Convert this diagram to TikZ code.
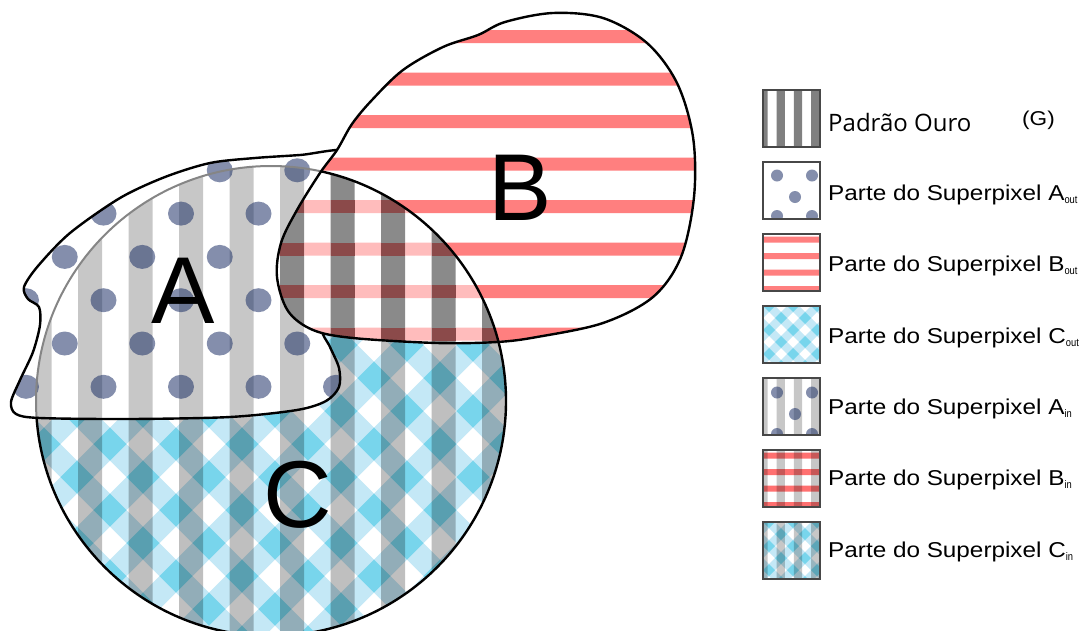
\documentclass[tikz,border=0pt]{standalone}
\usepackage{fontspec}
\setmainfont{Liberation Sans}
\newfontfamily\legfont[FakeStretch=1.13]{Liberation Sans}
\newfontfamily\subfont[FakeStretch=0.85]{Liberation Sans}
\newfontfamily\goldfont{Open Sans}

\definecolor{redstripe}{HTML}{FF7F7F}
\definecolor{pinkstripe}{HTML}{FFBCBC}
\definecolor{darkstripe}{HTML}{8A8A8A}
\definecolor{crossred}{HTML}{8B4A4A}
\definecolor{legred}{HTML}{FF7070}
\definecolor{cyanlight}{HTML}{C4E8F6}
\definecolor{cyanmid}{HTML}{78D5EC}
\definecolor{navy}{HTML}{1F3268}
\definecolor{goldgrey}{HTML}{808080}
\definecolor{arcgrey}{HTML}{858585}

% shapes, in pixel units (y grows downwards)
\def\circleG{(271,401) circle [radius=235]}
\def\blobA{plot[smooth cycle, tension=0.5] coordinates {(350,151) (300,155) (255,158) (210,163) (165,177) (120,198) (70,233) (38,266) (24,287) (28,299) (39,307) (40,325) (33,352) (20,380) (11,402) (16,414) (40,418) (130,419) (230,417) (297,410) (326,401) (339,387) (339,368) (330,347) (322,328) (338,300) (352,240) (357,185)}}
\def\blobB{plot[smooth cycle, tension=0.55] coordinates {(337,150) (352,124) (372,100) (403,70) (443,47) (478,35) (505,22) (553,13) (603,18) (647,43) (677,83) (693,137) (694,197) (681,257) (653,297) (603,323) (537,337) (497,342) (437,343) (353,338) (313,330) (288,311) (277,277) (281,243) (297,210) (320,173)}}
% vertical stripes of the gold standard
\def\gstripes{\foreach \k in {0,...,9} {({27.5+50.5*\k},140) rectangle ++(24,510)}}
% horizontal stripes of superpixel B
\def\rstripes{\foreach \j in {0,...,7} {(255,{30+42.5*\j}) rectangle ++(460,13)}}
% diagonal bands of superpixel C
\def\bandone{\foreach \k in {2,...,18} {({9.5+66*\k-150},150) -- ({42.5+66*\k-150},150) -- ({42.5+66*\k-650},650) -- ({9.5+66*\k-650},650) -- cycle}}
\def\bandtwo{\foreach \m in {-10,...,5} {({45.5+66*\m+150},150) -- ({78.5+66*\m+150},150) -- ({78.5+66*\m+650},650) -- ({45.5+66*\m+650},650) -- cycle}}
% small versions for the legend swatches (swatch coordinates)
\def\lbandone{\foreach \k in {-1,...,5} {({24*\k},0) -- ({12+24*\k},0) -- ({12+24*\k-57},57) -- ({24*\k-57},57) -- cycle}}
\def\lbandtwo{\foreach \m in {-3,...,2} {({24*\m},0) -- ({12+24*\m},0) -- ({12+24*\m+57},57) -- ({24*\m+57},57) -- cycle}}
\def\lgstripes{\foreach \k in {-1,...,2} {({13.5+17.3*\k},0) rectangle ++(8.3,57)}}
\def\lrstripes{\foreach \j in {0,...,3} {(0,{2.7+16.5*\j}) rectangle ++(57,6)}}

\tikzset{
  outline/.style={draw=black, line width=2.4pt},
  legbox/.style={draw=black!72, line width=1.2pt},
  legtext/.style={anchor=base west, inner sep=0pt, font=\legfont\fontsize{21.5}{21.5}\selectfont},
  biglabel/.style={anchor=base, inner sep=0pt, font=\fontsize{95}{95}\selectfont},
  gshade/.style={fill=black, fill opacity=0.22},
  gshadeC/.style={fill=black, fill opacity=0.25},
  dotfill/.style={fill=navy, fill opacity=0.55},
}
\newcommand\lsub[1]{\raisebox{-3pt}{\subfont\fontsize{11}{11}\selectfont #1}}

\begin{document}
\begin{tikzpicture}[x=1pt,y=-1pt]
\useasboundingbox (0,0) rectangle (1082,630);
\fill[white] (0,0) rectangle (1082,630);

% ---------- superpixel C inside the gold standard circle
\begin{scope}
  \clip \circleG;
  \fill[white] (30,150) rectangle (520,650);
  \fill[cyanlight] \bandone;
  \fill[cyanlight] \bandtwo;
  \begin{scope}
    \clip \bandone;
    \fill[cyanmid] \bandtwo;
  \end{scope}
  \fill[gshadeC] \gstripes;
\end{scope}
\draw[outline] \circleG;

% ---------- superpixel A
\fill[white] \blobA;
\begin{scope}
  \clip \blobA;
  \begin{scope}
    \clip \circleG;
    \fill[gshade] \gstripes;
  \end{scope}
  \foreach \j in {0,...,7} {
    \pgfmathsetmacro\yy{127+43.3*\j}
    \pgfmathsetmacro\xo{isodd(\j) ? 64.75 : 26}
    \foreach \i in {0,...,4}
      \fill[dotfill] ({\xo+77.5*\i},\yy) ellipse [x radius=13, y radius=12];
  }
  \draw[draw=arcgrey, line width=2pt] \circleG;
\end{scope}
\draw[outline] \blobA;

% ---------- superpixel B
\fill[white] \blobB;
\begin{scope}
  \clip \blobB;
  \fill[redstripe] \rstripes;
  \begin{scope}
    \clip \circleG;
    \fill[white] (250,140) rectangle (520,360);
    \fill[pinkstripe] \rstripes;
    \fill[darkstripe] \gstripes;
    \foreach \i in {0,...,9}
      \foreach \j in {0,...,7}
        \fill[crossred] ({27.5+50.5*\i},{30+42.5*\j}) rectangle ++(24,13);
  \end{scope}
  \draw[outline] \circleG;
\end{scope}
\draw[outline] \blobB;

% ---------- region letters
\node[biglabel] (labA) at (183,323) {A};
\node[biglabel] (labB) at (520,220) {B};
\node[biglabel] (labC) at (298,527) {C};

% ---------- legend swatches
% gold standard
\begin{scope}[shift={(763,90)}]
  \clip (0,0) rectangle (57,57);
  \fill[white] (0,0) rectangle (57,57);
  \fill[goldgrey] \lgstripes;
\end{scope}
\draw[legbox] (763,90) rectangle ++(57,57);
% A out
\begin{scope}[shift={(763,162)}]
  \clip (0,0) rectangle (57,57);
  \fill[white] (0,0) rectangle (57,57);
  \foreach \p in {(14,13.5),(49,13.5),(32,35),(14,54),(49,54)}
    \fill[dotfill] \p circle [radius=6];
\end{scope}
\draw[legbox] (763,162) rectangle ++(57,57);
% B out
\begin{scope}[shift={(763,234)}]
  \clip (0,0) rectangle (57,57);
  \fill[white] (0,0) rectangle (57,57);
  \fill[redstripe] \lrstripes;
\end{scope}
\draw[legbox] (763,234) rectangle ++(57,57);
% C out
\begin{scope}[shift={(763,306)}]
  \clip (0,0) rectangle (57,57);
  \fill[white] (0,0) rectangle (57,57);
  \fill[cyanlight] \lbandone;
  \fill[cyanlight] \lbandtwo;
  \begin{scope}
    \clip \lbandone;
    \fill[cyanmid] \lbandtwo;
  \end{scope}
\end{scope}
\draw[legbox] (763,306) rectangle ++(57,57);
% A in
\begin{scope}[shift={(763,378)}]
  \clip (0,0) rectangle (57,57);
  \fill[white] (0,0) rectangle (57,57);
  \fill[gshade] \lgstripes;
  \foreach \p in {(14,14.5),(49,14.5),(32,36),(14,56),(49,56)}
    \fill[dotfill] \p circle [radius=6];
\end{scope}
\draw[legbox] (763,378) rectangle ++(57,57);
% B in
\begin{scope}[shift={(763,450)}]
  \clip (0,0) rectangle (57,57);
  \fill[white] (0,0) rectangle (57,57);
  \fill[legred] \lrstripes;
  \fill[gshade] \lgstripes;
\end{scope}
\draw[legbox] (763,450) rectangle ++(57,57);
% C in
\begin{scope}[shift={(763,522)}]
  \clip (0,0) rectangle (57,57);
  \fill[white] (0,0) rectangle (57,57);
  \fill[cyanlight] \lbandone;
  \fill[cyanlight] \lbandtwo;
  \begin{scope}
    \clip \lbandone;
    \fill[cyanmid] \lbandtwo;
  \end{scope}
  \fill[gshade] \lgstripes;
\end{scope}
\draw[legbox] (763,522) rectangle ++(57,57);

% ---------- legend texts
\node[anchor=base west, inner sep=0pt, font=\goldfont\fontsize{24}{24}\selectfont] (tG) at (828,131.5) {Padrão Ouro};
\node[anchor=base west, inner sep=0pt, font=\legfont\fontsize{20}{20}\selectfont] (tGs) at (1022,125) {(G)};
\node[legtext] (tAo) at (828,200) {Parte do Superpixel A\lsub{out}};
\node[legtext] (tBo) at (828,271.5) {Parte do Superpixel B\lsub{out}};
\node[legtext] (tCo) at (828,343) {Parte do Superpixel C\lsub{out}};
\node[legtext] (tAi) at (828,414) {Parte do Superpixel A\lsub{in}};
\node[legtext] (tBi) at (828,485.5) {Parte do Superpixel B\lsub{in}};
\node[legtext] (tCi) at (828,557) {Parte do Superpixel C\lsub{in}};
\end{tikzpicture}
\end{document}
